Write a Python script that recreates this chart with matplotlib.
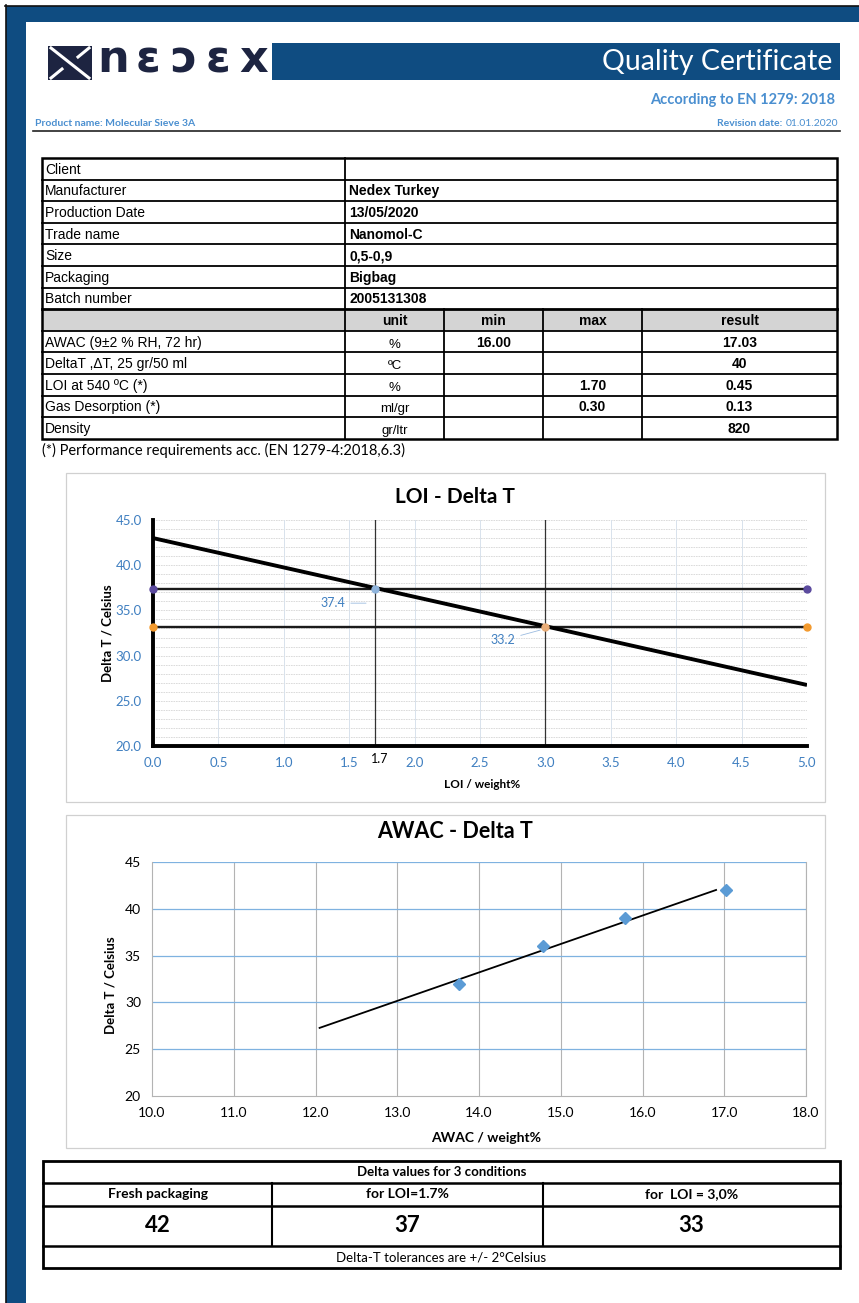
import numpy as np
import matplotlib
matplotlib.use("Agg")
import matplotlib.pyplot as plt
from matplotlib.lines import Line2D
from matplotlib.patches import Rectangle

W, H = 859, 1303

NAVY = "#0f4c81"
LIGHT_BLUE = "#4a8fd0"
TICK_BLUE = "#3f7fc0"
CAL = "Lato"
ARIAL = "Liberation Sans"

# certificate table
info_labels = ["Client", "Manufacturer", "Production Date", "Trade name", "Size",
               "Packaging", "Batch number"]
info_values = ["", "Nedex Turkey", "13/05/2020", "Nanomol-C", "0,5-0,9", "Bigbag",
               "2005131308"]
spec_cols = ["unit", "min", "max", "result"]
spec_rows = ["AWAC (9±2 % RH, 72 hr)", "DeltaT ,ΔT, 25 gr/50 ml", "LOI at 540 ºC (*)",
             "Gas Desorption (*)", "Density"]
spec_units = ["%", "ºC", "%", "ml/gr", "gr/ltr"]
spec_min = ["16.00", "", "", "", ""]
spec_max = ["", "", "1.70", "0.30", ""]
spec_result = ["17.03", "40", "0.45", "0.13", "820"]

# LOI - Delta T chart
loi_line_x = [0.0, 5.0]
loi_line_y = [43.0, 26.75]
loi_marks = [1.7, 3.0]
dt_marks = [37.4, 33.2]

# AWAC - Delta T chart
awac = [13.75, 14.78, 15.78, 17.02]
awac_dt = [32, 36, 39, 42]

# summary table
delta_title = "Delta values for 3 conditions"
delta_headers = ["Fresh packaging", "for LOI=1.7%", "for  LOI = 3,0%"]
delta_values = ["42", "37", "33"]
delta_note = "Delta-T tolerances are +/- 2°Celsius"


def fx(x):
    return x / W


def fy(y):
    return 1 - y / H


def line(fig, x0, y0, x1, y1, lw=1.3, color="black"):
    fig.add_artist(Line2D([fx(x0), fx(x1)], [fy(y0), fy(y1)], transform=fig.transFigure,
                          lw=lw, color=color, solid_capstyle="projecting"))


def rect(fig, x0, y0, x1, y1, **kw):
    fig.add_artist(Rectangle((fx(x0), fy(y1)), (x1 - x0) / W, (y1 - y0) / H,
                             transform=fig.transFigure, **kw))


def text(fig, x, y, s, **kw):
    kw.setdefault("va", "center")
    return fig.text(fx(x), fy(y), s, **kw)


def add_axes(fig, x0, y0, x1, y1):
    return fig.add_axes([fx(x0), fy(y1), (x1 - x0) / W, (y1 - y0) / H])


fig = plt.figure(figsize=(W / 100, H / 100), dpi=100)
fig.patch.set_facecolor("white")

# page frame
rect(fig, 6, 6, W, 22, facecolor=NAVY, edgecolor="none")
rect(fig, 6, 6, 26, H, facecolor=NAVY, edgecolor="none")
line(fig, 5.5, 5, 5.5, H, lw=1.2, color="#111111")
line(fig, 5, 5.5, W, 5.5, lw=1.2, color="#111111")

# logo
rect(fig, 48, 46, 92, 80, facecolor="#1d2441", edgecolor="none")
line(fig, 51, 48, 89, 78, lw=2.2, color="white")
line(fig, 89, 48, 78, 57, lw=2.2, color="white")
line(fig, 51, 78, 62, 69, lw=2.2, color="white")
for ch, cx in zip(["n", "ɛ", "ɔ", "ɛ", "x"], [113, 148, 183, 218, 254]):
    text(fig, cx, 60, ch, ha="center", fontsize=32, fontweight="heavy",
         color="#1d2441", family="DejaVu Sans")

# header banner
rect(fig, 272, 43, 840, 80, facecolor=NAVY, edgecolor="none")
text(fig, 832, 62, "Quality Certificate", ha="right", fontsize=20.5, color="white", family=CAL)
text(fig, 835, 100, "According to EN 1279: 2018", ha="right", fontsize=10.5,
     fontweight="bold", color=LIGHT_BLUE, family=CAL)
text(fig, 35, 124, "Product name: Molecular Sieve 3A", ha="left", fontsize=7.5,
     fontweight="bold", color=LIGHT_BLUE, family=CAL)
date_txt = text(fig, 838, 124, "01.01.2020", ha="right", fontsize=7.5, color=LIGHT_BLUE,
                family=CAL)
renderer = fig.canvas.get_renderer()
date_left = date_txt.get_window_extent(renderer).x0
text(fig, date_left - 3, 124, "Revision date:", ha="right", fontsize=7.5, fontweight="bold",
     color=LIGHT_BLUE, family=CAL)
line(fig, 33, 131, 840, 131, lw=1.2, color="#222222")

# certificate table
tx0, tx1 = 42, 837
top, rh = 158, 21.6
col_x = [345, 444, 543, 642]
n_info = len(info_labels)
n_rows = n_info + 1 + len(spec_rows)
bottom = top + n_rows * rh
hdr_y0 = top + n_info * rh
rect(fig, tx0, hdr_y0, tx1, hdr_y0 + rh, facecolor="#d4d4d4", edgecolor="none")

for i, (lab, val) in enumerate(zip(info_labels, info_values)):
    yc = top + (i + 0.5) * rh + 1
    text(fig, tx0 + 3, yc, lab, ha="left", fontsize=10, family=ARIAL)
    text(fig, col_x[0] + 4, yc, val, ha="left", fontsize=10, fontweight="bold", family=ARIAL)

col_centers = [(col_x[i] + (col_x + [tx1])[i + 1]) / 2 for i in range(4)]
for c, name in zip(col_centers, spec_cols):
    text(fig, c, hdr_y0 + rh / 2 + 1, name, ha="center", fontsize=10, fontweight="bold",
         family=ARIAL)

for j, lab in enumerate(spec_rows):
    yc = hdr_y0 + (j + 1.5) * rh + 1
    text(fig, tx0 + 3, yc, lab, ha="left", fontsize=10, family=ARIAL)
    text(fig, col_centers[0], yc + 2, spec_units[j], ha="center", fontsize=9.5, family=ARIAL)
    for c, v in zip(col_centers[1:], [spec_min[j], spec_max[j], spec_result[j]]):
        text(fig, c, yc, v, ha="center", fontsize=10, fontweight="bold", family=ARIAL)

for k in range(1, n_rows):
    y = top + k * rh
    line(fig, tx0, y, tx1, y, lw=2.0 if k == n_info else 1.3)
line(fig, col_x[0], top, col_x[0], bottom, lw=1.3)
for cx in col_x[1:]:
    line(fig, cx, hdr_y0, cx, bottom, lw=1.3)
rect(fig, tx0, top, tx1, bottom, facecolor="none", edgecolor="black", lw=1.8)

text(fig, 42, 450, "(*) Performance requirements acc. (EN 1279-4:2018,6.3)", ha="left",
     fontsize=10.5, family=CAL)

# ---------------- LOI - Delta T ----------------
rect(fig, 66, 473, 825, 802, facecolor="none", edgecolor="#d0d0d0", lw=0.9)
text(fig, 455, 497, "LOI - Delta T", ha="center", fontsize=15, fontweight="bold", family=CAL)

ax1 = add_axes(fig, 153, 520, 807, 746)
ax1.set_xlim(0, 5)
ax1.set_ylim(20, 45)
for yv in np.arange(21, 45.5, 1.0):
    ax1.axhline(yv, color="#d6d6d6", lw=0.6, ls=(0, (2, 1)), zorder=0)
for xv in np.arange(0.5, 5.01, 0.5):
    ax1.axvline(xv, color="#d8e2ec", lw=0.7, zorder=0)

for loi in loi_marks:
    ax1.axvline(loi, color="#333333", lw=0.9, zorder=2)
for dt in dt_marks:
    ax1.hlines(dt, 0, 5, color="#1a1a1a", lw=1.7, zorder=2)

ax1.plot(loi_line_x, loi_line_y, color="black", lw=2.8, zorder=3, solid_capstyle="butt")
ax1.plot([0, 5], [dt_marks[0]] * 2, "o", color="#5b4a9e", ms=5, zorder=4, clip_on=False)
ax1.plot([0, 5], [dt_marks[1]] * 2, "o", color="#f39a2e", ms=5, zorder=4, clip_on=False)
ax1.plot(loi_marks[0], dt_marks[0], "o", color="#8fb4dc", ms=5, zorder=4)
ax1.plot(loi_marks[1], dt_marks[1], "o", color="#e9ad78", ms=5, zorder=4)

ax1.annotate(f"{dt_marks[0]:.1f}", xy=(loi_marks[0] - 0.05, dt_marks[0] - 1.6),
             xytext=(1.47, dt_marks[0] - 1.6), ha="right", va="center", fontsize=9,
             color=TICK_BLUE, family=CAL,
             arrowprops=dict(arrowstyle="-", color="#9bbbe0", lw=0.6))
ax1.annotate(f"{dt_marks[1]:.1f}", xy=(loi_marks[1] - 0.02, dt_marks[1] - 0.3),
             xytext=(2.77, dt_marks[1] - 1.5), ha="right", va="center", fontsize=9,
             color=TICK_BLUE, family=CAL,
             arrowprops=dict(arrowstyle="-", color="#9bbbe0", lw=0.6))

for side in ["top", "right"]:
    ax1.spines[side].set_visible(False)
for side in ["left", "bottom"]:
    ax1.spines[side].set_linewidth(2.8)
    ax1.spines[side].set_color("black")
ax1.set_xticks(np.arange(0, 5.01, 0.5))
ax1.set_xticklabels([f"{v:.1f}" for v in np.arange(0, 5.01, 0.5)])
ax1.set_yticks(np.arange(20, 45.1, 5))
ax1.set_yticklabels([f"{v:.1f}" for v in np.arange(20, 45.1, 5)])
ax1.tick_params(length=0, labelcolor=TICK_BLUE, labelsize=9.5, pad=8)
for lab in ax1.get_xticklabels() + ax1.get_yticklabels():
    lab.set_family(CAL)
ax1.text(loi_marks[0] + 0.03, 18.6, f"{loi_marks[0]}", ha="center", va="center",
         fontsize=9, family=CAL, color="black")
text(fig, 482, 785, "LOI / weight%", ha="center", fontsize=8.5, fontweight="bold", family=CAL)
text(fig, 108, 633, "Delta T / Celsius", ha="center", rotation=90, fontsize=9.5,
     fontweight="bold", family=CAL)

# ---------------- AWAC - Delta T ----------------
rect(fig, 66, 815, 825, 1148, facecolor="none", edgecolor="#d0d0d0", lw=0.9)
text(fig, 455, 832, "AWAC - Delta T", ha="center", fontsize=15.5, fontweight="bold",
     family=CAL)

ax2 = add_axes(fig, 152, 862, 806, 1096)
ax2.set_xlim(10, 18)
ax2.set_ylim(20, 45)
for xv in np.arange(11, 18.1, 1):
    ax2.axvline(xv, color="#b3b3b3", lw=0.8, zorder=0)
for yv in np.arange(25, 45.1, 5):
    ax2.axhline(yv, color="#7fb2e0", lw=0.9, zorder=0)

slope, icpt = np.polyfit(awac, awac_dt, 1)
trend_x = np.array([12.05, 16.9])
ax2.plot(trend_x, slope * trend_x + icpt, color="black", lw=1.3, zorder=2)
ax2.plot(awac, awac_dt, "D", color="#5b9bd5", ms=6, zorder=3)

for side in ax2.spines.values():
    side.set_color("#b3b3b3")
    side.set_linewidth(0.8)
ax2.spines["top"].set_visible(False)
ax2.set_xticks(np.arange(10, 18.1, 1))
ax2.set_xticklabels([f"{v:.1f}" for v in np.arange(10, 18.1, 1)])
ax2.set_yticks(np.arange(20, 45.1, 5))
ax2.tick_params(length=0, labelsize=10, pad=8)
for lab in ax2.get_xticklabels() + ax2.get_yticklabels():
    lab.set_family(CAL)
text(fig, 486, 1138, "AWAC / weight%", ha="center", fontsize=10, fontweight="bold",
     family=CAL)
text(fig, 110, 985, "Delta T / Celsius", ha="center", rotation=90, fontsize=9.5,
     fontweight="bold", family=CAL)

# ---------------- summary table ----------------
bx0, bx1 = 43, 840
rows_y = [1161, 1183, 1206, 1246, 1268]
bcols = [bx0, 272, 543, bx1]
for y in rows_y[1:-1]:
    line(fig, bx0, y, bx1, y, lw=1.8)
for cx in bcols[1:-1]:
    line(fig, cx, rows_y[1], cx, rows_y[3], lw=1.5)
rect(fig, bx0, rows_y[0], bx1, rows_y[-1], facecolor="none", edgecolor="black", lw=2.0)
text(fig, (bx0 + bx1) / 2, (rows_y[0] + rows_y[1]) / 2, delta_title, ha="center",
     fontsize=9.5, fontweight="bold", family=CAL)
for i in range(3):
    cx = (bcols[i] + bcols[i + 1]) / 2
    text(fig, cx, (rows_y[1] + rows_y[2]) / 2, delta_headers[i], ha="center", fontsize=10,
         fontweight="bold", family=CAL)
    text(fig, cx, (rows_y[2] + rows_y[3]) / 2, delta_values[i], ha="center", fontsize=16,
         fontweight="bold", family=CAL)
text(fig, (bx0 + bx1) / 2, (rows_y[3] + rows_y[4]) / 2, delta_note, ha="center",
     fontsize=9.5, family=CAL)

fig.savefig("out.png", dpi=100)
